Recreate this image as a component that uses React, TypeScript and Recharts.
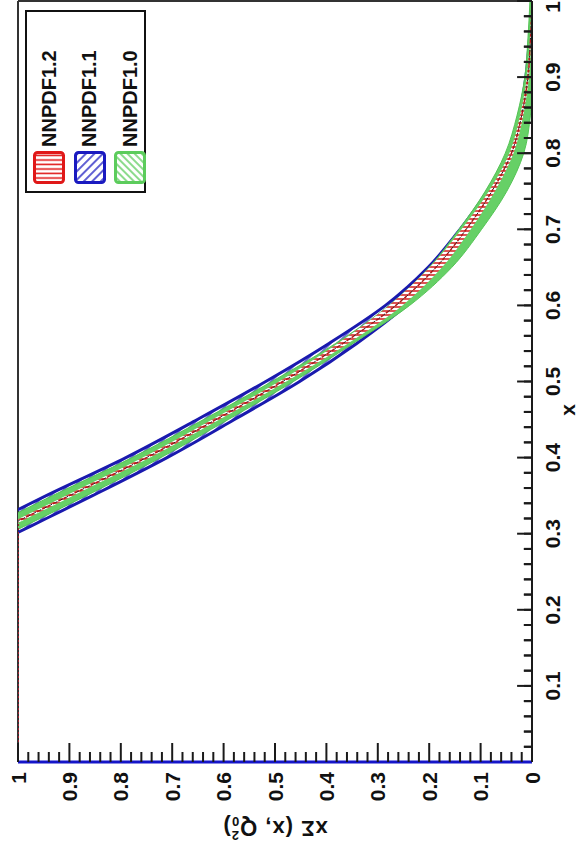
import React from 'react';
import { ComposedChart, Area, Line, XAxis, YAxis, CartesianGrid, ReferenceLine } from 'recharts';

// x grid of the bands (values above 1 get clipped by the y domain)
const xValues = [0.28, 0.30, 0.32, 0.35, 0.40, 0.45, 0.50, 0.55, 0.60, 0.65, 0.70, 0.75, 0.80, 0.85, 0.90, 0.95, 1.00];

const nnpdf12Lo = [1.103, 1.043, 0.983, 0.893, 0.743, 0.608, 0.478, 0.358, 0.252, 0.175, 0.119, 0.072, 0.036, 0.017, 0.006, 0.002, 0.0];
const nnpdf12Hi = [1.117, 1.057, 0.997, 0.907, 0.757, 0.622, 0.492, 0.378, 0.278, 0.199, 0.137, 0.084, 0.044, 0.023, 0.01, 0.004, 0.0];

const nnpdf11Lo = [1.065, 1.005, 0.945, 0.855, 0.71, 0.579, 0.452, 0.341, 0.245, 0.172, 0.116, 0.069, 0.033, 0.015, 0.004, 0.001, 0.0];
const nnpdf11Hi = [1.155, 1.095, 1.035, 0.945, 0.79, 0.651, 0.518, 0.395, 0.285, 0.202, 0.14, 0.087, 0.047, 0.025, 0.012, 0.005, 0.0];

const nnpdf10Lo = [1.077, 1.017, 0.957, 0.867, 0.722, 0.591, 0.464, 0.348, 0.238, 0.156, 0.098, 0.049, 0.016, 0.003, -0.002, 0.0, -0.002];
const nnpdf10Hi = [1.143, 1.083, 1.023, 0.933, 0.778, 0.639, 0.506, 0.382, 0.278, 0.2, 0.142, 0.091, 0.052, 0.029, 0.014, 0.008, 0.004];

// central value pinned at the top of the frame for small x
const clampX = [0, 0.316];
const clampY = [1, 1];

const xTickLabels = ['0.1', '0.2', '0.3', '0.4', '0.5', '0.6', '0.7', '0.8', '0.9', '1'];
const yTickLabels = ['0', '0.1', '0.2', '0.3', '0.4', '0.5', '0.6', '0.7', '0.8', '0.9', '1'];

const sets = [
  { name: 'NNPDF1.2', color: '#e01818', pattern: 'lg12' },
  { name: 'NNPDF1.1', color: '#1a1ac0', pattern: 'lg11' },
  { name: 'NNPDF1.0', color: '#5ccc5c', pattern: 'lg10' },
];

const rows = xValues.map((x, i) => ({
  x,
  nnpdf12: [nnpdf12Lo[i], nnpdf12Hi[i]],
  nnpdf11: [nnpdf11Lo[i], nnpdf11Hi[i]],
  nnpdf10: [nnpdf10Lo[i], nnpdf10Hi[i]],
  mid: (nnpdf12Lo[i] + nnpdf12Hi[i]) / 2,
}));
const clampRows = clampX.map((x, i) => ({ x, y: clampY[i] }));

const allTicks = Array.from({ length: 51 }, (_, i) => +(i * 0.02).toFixed(2));
const isMajor = (v: number) => Math.abs(v * 10 - Math.round(v * 10)) < 1e-6;
const labelFor = (list: string[], v: number) => list.find(l => Math.abs(Number(l) - v) < 1e-6);

const FONT = '"Liberation Sans", Arial, sans-serif';
const X_MINOR = 8;
const X_MARGIN = 21; // label sits 13px below the axis
const Y_GAP = 10;
// inward x tick lengths, in y units (514px per unit)
const X_MAJOR_LEN = 0.029;
const X_MINOR_LEN = 0.016;

function XTick(props: any) {
  const { x, y, payload } = props;
  const v = payload.value;
  const label = labelFor(xTickLabels, v);
  return <g>
      {label && <text x={x} y={y} dy="0.72em" textAnchor={v === 1 ? 'end' : 'middle'} fontSize={21} fontWeight="bold" fontFamily={FONT} fill="#111">{label}</text>}
    </g>;
}

function YTick(props: any) {
  const { x, y, payload } = props;
  const v = payload.value;
  const base = x + Y_GAP;
  const label = labelFor(yTickLabels, v);
  return <g>
      <line x1={base} x2={base + (isMajor(v) ? 19 : 10)} y1={y} y2={y} stroke="#1a1a1a" strokeWidth={2} />
      {label && <text x={x} y={y} dy="0.36em" textAnchor="end" fontSize={21} fontWeight="bold" fontFamily={FONT} fill="#111">{label}</text>}
    </g>;
}

// pattern defs and axis titles, drawn in an svg laid over the chart
function Overlay() {
  return <svg width={852} height={580} style={{ position: 'absolute', left: 0, top: 0, pointerEvents: 'none' }}>
      <defs>
        <pattern id="p12" width="4" height="4" patternUnits="userSpaceOnUse">
          <rect width={4} height={4} fill="#fff" />
          <line x1={1} y1={0} x2={1} y2={4} stroke="#d41a1a" strokeWidth={1.5} />
        </pattern>
        <pattern id="p11" width="5" height="5" patternUnits="userSpaceOnUse" patternTransform="rotate(-45)">
          <line x1={1} y1={0} x2={1} y2={5} stroke="#1a1ac0" strokeWidth={1.3} />
        </pattern>
        <pattern id="lg12" width="4.5" height="4.5" patternUnits="userSpaceOnUse">
          <line x1={1.5} y1={0} x2={1.5} y2={4.5} stroke="#e01818" strokeWidth={1.6} />
        </pattern>
        <pattern id="lg11" width="6" height="6" patternUnits="userSpaceOnUse" patternTransform="rotate(-45)">
          <line x1={1} y1={0} x2={1} y2={6} stroke="#1a1ac0" strokeWidth={1.4} />
        </pattern>
        <pattern id="lg10" width="5" height="5" patternUnits="userSpaceOnUse" patternTransform="rotate(45)">
          <line x1={1} y1={0} x2={1} y2={5} stroke="#5ccc5c" strokeWidth={1.4} />
        </pattern>
      </defs>
      <text x={442} y={575} textAnchor="middle" fontSize={21} fontWeight="bold" fontFamily={FONT} fill="#111">x</text>
      <text x={24} y={275} transform="rotate(-90 24 275)" textAnchor="middle" dominantBaseline="central" fontSize={22} fontWeight="bold" fontFamily={FONT} fill="#111" letterSpacing={1}>
        xΣ (x, Q<tspan fontSize={13} dy={6}>0</tspan><tspan fontSize={13} dx={-8} dy={-14}>2</tspan><tspan dy={8}>)</tspan>
      </text>
    </svg>;
}

function Swatch({ color, pattern }: { color: string; pattern: string }) {
  return <svg width={33} height={32} style={{ display: 'block' }}>
      <rect x={1.5} y={1.5} width={30} height={29} rx={3} fill="#fff" />
      <rect x={1.5} y={1.5} width={30} height={29} rx={3} fill={`url(#${pattern})`} stroke={color} strokeWidth={3} />
    </svg>;
}

function LegendBox() {
  return <div style={{ position: 'absolute', left: 659, top: 25, width: 183, height: 121, boxSizing: 'border-box', border: '2px solid #111', background: '#fff', padding: '2px 0 0 7px' }}>
      {sets.map(s => <div key={s.name} style={{ display: 'flex', alignItems: 'center', height: 40.5 }}>
          <Swatch color={s.color} pattern={s.pattern} />
          <span style={{ marginLeft: 4, fontFamily: FONT, fontWeight: 'bold', fontSize: 20, color: '#111' }}>{s.name}</span>
        </div>)}
    </div>;
}

function SigmaChart() {
  return <ComposedChart width={852} height={580} data={rows} margin={{
    top: 18,
    right: 1,
    bottom: 0,
    left: 0
  }}>
      <CartesianGrid horizontalValues={[1]} verticalValues={[1]} stroke="#333" strokeWidth={2} />
      <XAxis dataKey="x" type="number" domain={[0, 1]} allowDataOverflow ticks={allTicks} interval={0} tickSize={-X_MINOR} tickLine={{
      stroke: '#1a1a1a',
      strokeWidth: 2
    }} tickMargin={X_MARGIN} tick={<XTick />} axisLine={{
      stroke: '#1a1a1a',
      strokeWidth: 2
    }} height={48} />
      <YAxis type="number" domain={[0, 1]} allowDataOverflow ticks={allTicks} interval={0} tickSize={0} tickLine={false} tickMargin={Y_GAP} tick={<YTick />} axisLine={{
      stroke: '#1515c8',
      strokeWidth: 3
    }} width={90} />
      <Area type="monotone" dataKey="nnpdf11" name="NNPDF1.1" stroke="#1a1aae" strokeWidth={3} fill="url(#p11)" fillOpacity={1} isAnimationActive={false} />
      <Area type="monotone" dataKey="nnpdf10" name="NNPDF1.0" stroke="#55c455" strokeWidth={1} fill="#66d066" fillOpacity={1} isAnimationActive={false} />
      <Area type="monotone" dataKey="nnpdf12" name="NNPDF1.2" stroke="none" fill="url(#p12)" fillOpacity={1} isAnimationActive={false} />
      <Line type="monotone" dataKey="mid" stroke="#b01818" strokeWidth={1.5} strokeDasharray="3 3" dot={false} isAnimationActive={false} />
      <Line type="monotone" dataKey="mid" stroke="#222" strokeWidth={1} strokeDasharray="2 4" strokeDashoffset={3} dot={false} isAnimationActive={false} />
      <Line data={clampRows} dataKey="y" stroke="#a02030" strokeWidth={2} strokeDasharray="2 2" dot={false} isAnimationActive={false} />
      {allTicks.map(v => <ReferenceLine key={v} segment={[{
      x: v,
      y: 0
    }, {
      x: v,
      y: isMajor(v) ? X_MAJOR_LEN : X_MINOR_LEN
    }]} stroke="#1a1a1a" strokeWidth={2} ifOverflow="visible" />)}
    </ComposedChart>;
}

export default function App() {
  return <div style={{
    position: 'absolute',
    left: 0,
    top: 0,
    width: 580,
    height: 852,
    overflow: 'hidden',
    background: '#fff'
  }}>
      <div style={{
      position: 'absolute',
      left: 0,
      top: 0,
      width: 852,
      height: 580,
      transformOrigin: '0 0',
      transform: 'translate(0px, 852px) rotate(-90deg)'
    }}>
        <SigmaChart />
        <Overlay />
        <LegendBox />
      </div>
    </div>;
}
